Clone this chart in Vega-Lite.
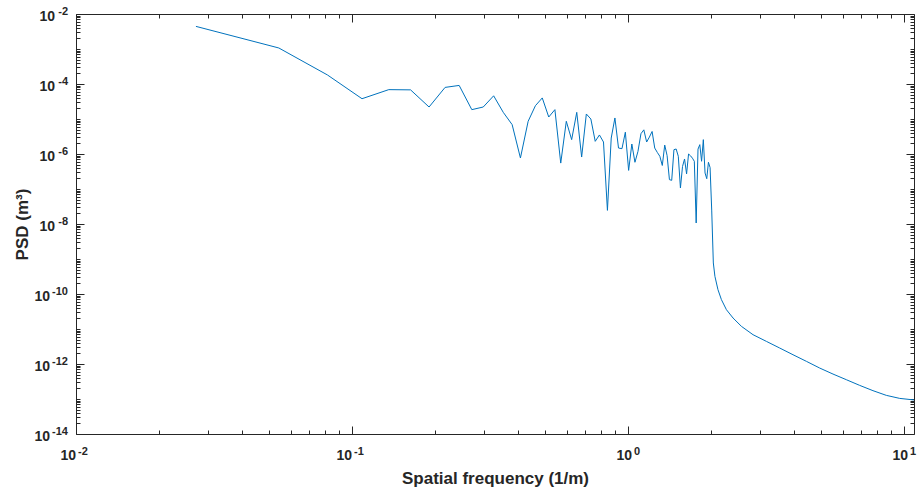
{
  "$schema": "https://vega.github.io/schema/vega-lite/v6.json",
  "width": 838,
  "height": 420,
  "autosize": {"type": "none"},
  "padding": {"left": 76, "top": 14, "right": 8, "bottom": 58},
  "background": "white",
  "view": {"stroke": null},
  "config": {
    "axis": {
      "grid": false,
      "domainColor": "#262626",
      "domainWidth": 1,
      "tickColor": "#262626",
      "tickWidth": 1,
      "labels": false,
      "titleColor": "#262626",
      "titleFont": "Liberation Sans",
      "titleFontSize": 17,
      "titleFontWeight": "bold"
    },
    "text": {"font": "Liberation Sans", "fontWeight": "bold", "color": "#262626", "baseline": "alphabetic"}
  },
  "datasets": {
    "psd": [
      {"f": 0.0272, "psd": 4.43e-3},
      {"f": 0.0543, "psd": 1.07e-3},
      {"f": 0.0815, "psd": 1.81e-4},
      {"f": 0.1087, "psd": 3.8e-5},
      {"f": 0.1359, "psd": 6.9e-5},
      {"f": 0.1630, "psd": 6.8e-5},
      {"f": 0.1902, "psd": 2.2e-5},
      {"f": 0.2174, "psd": 8.0e-5},
      {"f": 0.2445, "psd": 9.1e-5},
      {"f": 0.2717, "psd": 1.85e-5},
      {"f": 0.2989, "psd": 2.2e-5},
      {"f": 0.3260, "psd": 4.6e-5},
      {"f": 0.3532, "psd": 1.55e-5},
      {"f": 0.3804, "psd": 6.9e-6},
      {"f": 0.4076, "psd": 7.7e-7},
      {"f": 0.4347, "psd": 8.6e-6},
      {"f": 0.4619, "psd": 2.4e-5},
      {"f": 0.4891, "psd": 4.0e-5},
      {"f": 0.5162, "psd": 1.14e-5},
      {"f": 0.5434, "psd": 1.85e-5},
      {"f": 0.5706, "psd": 5.5e-7},
      {"f": 0.5977, "psd": 8.6e-6},
      {"f": 0.6249, "psd": 2.57e-6},
      {"f": 0.6521, "psd": 1.55e-5},
      {"f": 0.6793, "psd": 8.2e-7},
      {"f": 0.7064, "psd": 1.39e-5},
      {"f": 0.7336, "psd": 1.0e-5},
      {"f": 0.7608, "psd": 2.3e-6},
      {"f": 0.7879, "psd": 3.5e-6},
      {"f": 0.8151, "psd": 2.2e-6},
      {"f": 0.8423, "psd": 2.45e-8},
      {"f": 0.8694, "psd": 2.86e-6},
      {"f": 0.8966, "psd": 1.07e-5},
      {"f": 0.9238, "psd": 1.48e-6},
      {"f": 0.9510, "psd": 1.42e-6},
      {"f": 0.9781, "psd": 4.2e-6},
      {"f": 1.0053, "psd": 3.4e-7},
      {"f": 1.0325, "psd": 1.93e-6},
      {"f": 1.0596, "psd": 5.8e-7},
      {"f": 1.0868, "psd": 1.19e-6},
      {"f": 1.1140, "psd": 3.8e-6},
      {"f": 1.1411, "psd": 4.9e-6},
      {"f": 1.1683, "psd": 2.2e-6},
      {"f": 1.1955, "psd": 3.05e-6},
      {"f": 1.2227, "psd": 4.4e-6},
      {"f": 1.2498, "psd": 1.48e-6},
      {"f": 1.2770, "psd": 1.11e-6},
      {"f": 1.3042, "psd": 8.6e-7},
      {"f": 1.3313, "psd": 4.7e-7},
      {"f": 1.3585, "psd": 1.8e-6},
      {"f": 1.3857, "psd": 9.0e-7},
      {"f": 1.4128, "psd": 1.85e-7},
      {"f": 1.4400, "psd": 1.77e-7},
      {"f": 1.4672, "psd": 1.33e-6},
      {"f": 1.4944, "psd": 1.39e-6},
      {"f": 1.5215, "psd": 8.6e-7},
      {"f": 1.5487, "psd": 1.07e-7},
      {"f": 1.5759, "psd": 4.4e-7},
      {"f": 1.6030, "psd": 7.2e-7},
      {"f": 1.6302, "psd": 2.7e-7},
      {"f": 1.6574, "psd": 1.0e-6},
      {"f": 1.6845, "psd": 8.9e-7},
      {"f": 1.7117, "psd": 7.6e-7},
      {"f": 1.7389, "psd": 6.2e-7},
      {"f": 1.7661, "psd": 1.07e-8},
      {"f": 1.7932, "psd": 1.38e-6},
      {"f": 1.8204, "psd": 1.85e-6},
      {"f": 1.8476, "psd": 6.2e-7},
      {"f": 1.8747, "psd": 2.57e-6},
      {"f": 1.9019, "psd": 2.86e-7},
      {"f": 1.9291, "psd": 1.97e-7},
      {"f": 1.9562, "psd": 5.8e-7},
      {"f": 1.9834, "psd": 4.1e-7},
      {"f": 2.0106, "psd": 2.5e-8},
      {"f": 2.0378, "psd": 7.7e-10},
      {"f": 2.0649, "psd": 3.2e-10},
      {"f": 2.118, "psd": 1.33e-10},
      {"f": 2.18, "psd": 6.9e-11},
      {"f": 2.273, "psd": 3.56e-11},
      {"f": 2.402, "psd": 2.06e-11},
      {"f": 2.576, "psd": 1.19e-11},
      {"f": 2.838, "psd": 6.87e-12},
      {"f": 3.173, "psd": 4.43e-12},
      {"f": 3.545, "psd": 2.86e-12},
      {"f": 3.961, "psd": 1.84e-12},
      {"f": 4.43, "psd": 1.19e-12},
      {"f": 4.95, "psd": 7.66e-13},
      {"f": 5.53, "psd": 5.16e-13},
      {"f": 6.18, "psd": 3.56e-13},
      {"f": 6.91, "psd": 2.45e-13},
      {"f": 7.72, "psd": 1.73e-13},
      {"f": 8.63, "psd": 1.27e-13},
      {"f": 9.65, "psd": 1.04e-13},
      {"f": 10.87, "psd": 9.4e-14}
    ],
    "xneg": [{"v": 0.01, "e": "-2"}, {"v": 0.1, "e": "-1"}],
    "xpos": [{"v": 1, "e": "0"}, {"v": 10, "e": "1"}],
    "yone": [{"v": 1e-2, "e": "-2"}, {"v": 1e-4, "e": "-4"}, {"v": 1e-6, "e": "-6"}, {"v": 1e-8, "e": "-8"}],
    "ytwo": [{"v": 1e-10, "e": "-10"}, {"v": 1e-12, "e": "-12"}, {"v": 1e-14, "e": "-14"}]
  },
  "layer": [
    {
      "data": {"name": "psd"},
      "mark": {"type": "line", "color": "#0072BD", "strokeWidth": 1, "clip": true},
      "encoding": {
        "x": {
          "field": "f", "type": "quantitative",
          "scale": {"type": "log", "domain": [0.01, 10.87], "nice": false},
          "axis": {
            "orient": "bottom",
            "values": [0.01,0.02,0.03,0.04,0.05,0.06,0.07,0.08,0.09,0.1,0.2,0.3,0.4,0.5,0.6,0.7,0.8,0.9,1,2,3,4,5,6,7,8,9,10],
            "tickSize": {"condition": {"test": "indexof([0.01,0.1,1,10], datum.value) >= 0", "value": -8}, "value": -4},
            "title": "Spatial frequency (1/m)",
            "titleY": 49,
            "titleBaseline": "alphabetic"
          }
        },
        "y": {
          "field": "psd", "type": "quantitative",
          "scale": {"type": "log", "domain": [1e-14, 1e-2], "nice": false},
          "axis": {
            "orient": "left",
            "values": [1e-14,2e-14,3e-14,4e-14,5e-14,6e-14,7e-14,8e-14,9e-14,1e-13,2e-13,3e-13,4e-13,5e-13,6e-13,7e-13,8e-13,9e-13,1e-12,2e-12,3e-12,4e-12,5e-12,6e-12,7e-12,8e-12,9e-12,1e-11,2e-11,3e-11,4e-11,5e-11,6e-11,7e-11,8e-11,9e-11,1e-10,2e-10,3e-10,4e-10,5e-10,6e-10,7e-10,8e-10,9e-10,1e-9,2e-9,3e-9,4e-9,5e-9,6e-9,7e-9,8e-9,9e-9,1e-8,2e-8,3e-8,4e-8,5e-8,6e-8,7e-8,8e-8,9e-8,1e-7,2e-7,3e-7,4e-7,5e-7,6e-7,7e-7,8e-7,9e-7,1e-6,2e-6,3e-6,4e-6,5e-6,6e-6,7e-6,8e-6,9e-6,1e-5,2e-5,3e-5,4e-5,5e-5,6e-5,7e-5,8e-5,9e-5,1e-4,2e-4,3e-4,4e-4,5e-4,6e-4,7e-4,8e-4,9e-4,1e-3,2e-3,3e-3,4e-3,5e-3,6e-3,7e-3,8e-3,9e-3,1e-2],
            "tickSize": {"condition": {"test": "indexof([1e-2,1e-4,1e-6,1e-8,1e-10,1e-12,1e-14], datum.value) >= 0", "value": -8}, "value": -4},
            "title": "PSD (m³)",
            "titleX": -54,
            "titleY": 210,
            "titleAngle": -90,
            "titleBaseline": "middle",
            "titleAlign": "center"
          }
        }
      }
    },
    {
      "data": {"name": "psd"},
      "mark": {"type": "line", "strokeOpacity": 0},
      "encoding": {
        "x": {
          "field": "f", "type": "quantitative",
          "scale": {"type": "log", "domain": [0.01, 10.87], "nice": false},
          "axis": {
            "orient": "top",
            "values": [0.01,0.02,0.03,0.04,0.05,0.06,0.07,0.08,0.09,0.1,0.2,0.3,0.4,0.5,0.6,0.7,0.8,0.9,1,2,3,4,5,6,7,8,9,10],
            "title": null,
            "tickSize": {"condition": {"test": "indexof([0.01,0.1,1,10], datum.value) >= 0", "value": -8}, "value": -4}
          }
        },
        "y": {
          "field": "psd", "type": "quantitative",
          "scale": {"type": "log", "domain": [1e-14, 1e-2], "nice": false},
          "axis": {
            "orient": "right",
            "values": [1e-14,2e-14,3e-14,4e-14,5e-14,6e-14,7e-14,8e-14,9e-14,1e-13,2e-13,3e-13,4e-13,5e-13,6e-13,7e-13,8e-13,9e-13,1e-12,2e-12,3e-12,4e-12,5e-12,6e-12,7e-12,8e-12,9e-12,1e-11,2e-11,3e-11,4e-11,5e-11,6e-11,7e-11,8e-11,9e-11,1e-10,2e-10,3e-10,4e-10,5e-10,6e-10,7e-10,8e-10,9e-10,1e-9,2e-9,3e-9,4e-9,5e-9,6e-9,7e-9,8e-9,9e-9,1e-8,2e-8,3e-8,4e-8,5e-8,6e-8,7e-8,8e-8,9e-8,1e-7,2e-7,3e-7,4e-7,5e-7,6e-7,7e-7,8e-7,9e-7,1e-6,2e-6,3e-6,4e-6,5e-6,6e-6,7e-6,8e-6,9e-6,1e-5,2e-5,3e-5,4e-5,5e-5,6e-5,7e-5,8e-5,9e-5,1e-4,2e-4,3e-4,4e-4,5e-4,6e-4,7e-4,8e-4,9e-4,1e-3,2e-3,3e-3,4e-3,5e-3,6e-3,7e-3,8e-3,9e-3,1e-2],
            "title": null,
            "tickSize": {"condition": {"test": "indexof([1e-2,1e-4,1e-6,1e-8,1e-10,1e-12,1e-14], datum.value) >= 0", "value": -8}, "value": -4}
          }
        }
      }
    },
    {
      "data": {"name": "xneg"},
      "mark": {"type": "text", "fontSize": 14, "align": "right", "dx": 0, "dy": 26.4, "clip": false},
      "encoding": {
        "x": {"field": "v", "type": "quantitative", "scale": {"type": "log", "domain": [0.01, 10.87], "nice": false}, "axis": null},
        "y": {"datum": 1e-14, "type": "quantitative", "scale": {"type": "log", "domain": [1e-14, 1e-2], "nice": false}, "axis": null},
        "text": {"value": "10"}
      }
    },
    {
      "data": {"name": "xneg"},
      "mark": {"type": "text", "fontSize": 11, "align": "left", "dx": 2, "dy": 20.7, "clip": false},
      "encoding": {
        "x": {"field": "v", "type": "quantitative", "scale": {"type": "log", "domain": [0.01, 10.87], "nice": false}, "axis": null},
        "y": {"datum": 1e-14, "type": "quantitative", "scale": {"type": "log", "domain": [1e-14, 1e-2], "nice": false}, "axis": null},
        "text": {"field": "e"}
      }
    },
    {
      "data": {"name": "xpos"},
      "mark": {"type": "text", "fontSize": 14, "align": "right", "dx": 4, "dy": 26.4, "clip": false},
      "encoding": {
        "x": {"field": "v", "type": "quantitative", "scale": {"type": "log", "domain": [0.01, 10.87], "nice": false}, "axis": null},
        "y": {"datum": 1e-14, "type": "quantitative", "scale": {"type": "log", "domain": [1e-14, 1e-2], "nice": false}, "axis": null},
        "text": {"value": "10"}
      }
    },
    {
      "data": {"name": "xpos"},
      "mark": {"type": "text", "fontSize": 11, "align": "left", "dx": 6, "dy": 20.7, "clip": false},
      "encoding": {
        "x": {"field": "v", "type": "quantitative", "scale": {"type": "log", "domain": [0.01, 10.87], "nice": false}, "axis": null},
        "y": {"datum": 1e-14, "type": "quantitative", "scale": {"type": "log", "domain": [1e-14, 1e-2], "nice": false}, "axis": null},
        "text": {"field": "e"}
      }
    },
    {
      "data": {"name": "yone"},
      "mark": {"type": "text", "fontSize": 14, "align": "right", "dx": -21, "dy": 6.5, "clip": false},
      "encoding": {
        "x": {"datum": 0.01, "type": "quantitative", "scale": {"type": "log", "domain": [0.01, 10.87], "nice": false}, "axis": null},
        "y": {"field": "v", "type": "quantitative", "scale": {"type": "log", "domain": [1e-14, 1e-2], "nice": false}, "axis": null},
        "text": {"value": "10"}
      }
    },
    {
      "data": {"name": "yone"},
      "mark": {"type": "text", "fontSize": 11, "align": "right", "dx": -8, "dy": 0.8, "clip": false},
      "encoding": {
        "x": {"datum": 0.01, "type": "quantitative", "scale": {"type": "log", "domain": [0.01, 10.87], "nice": false}, "axis": null},
        "y": {"field": "v", "type": "quantitative", "scale": {"type": "log", "domain": [1e-14, 1e-2], "nice": false}, "axis": null},
        "text": {"field": "e"}
      }
    },
    {
      "data": {"name": "ytwo"},
      "mark": {"type": "text", "fontSize": 14, "align": "right", "dx": -26, "dy": 6.5, "clip": false},
      "encoding": {
        "x": {"datum": 0.01, "type": "quantitative", "scale": {"type": "log", "domain": [0.01, 10.87], "nice": false}, "axis": null},
        "y": {"field": "v", "type": "quantitative", "scale": {"type": "log", "domain": [1e-14, 1e-2], "nice": false}, "axis": null},
        "text": {"value": "10"}
      }
    },
    {
      "data": {"name": "ytwo"},
      "mark": {"type": "text", "fontSize": 11, "align": "right", "dx": -8, "dy": 0.8, "clip": false},
      "encoding": {
        "x": {"datum": 0.01, "type": "quantitative", "scale": {"type": "log", "domain": [0.01, 10.87], "nice": false}, "axis": null},
        "y": {"field": "v", "type": "quantitative", "scale": {"type": "log", "domain": [1e-14, 1e-2], "nice": false}, "axis": null},
        "text": {"field": "e"}
      }
    }
  ],
  "resolve": {"scale": {"x": "independent", "y": "independent"}, "axis": {"x": "independent", "y": "independent"}}
}
